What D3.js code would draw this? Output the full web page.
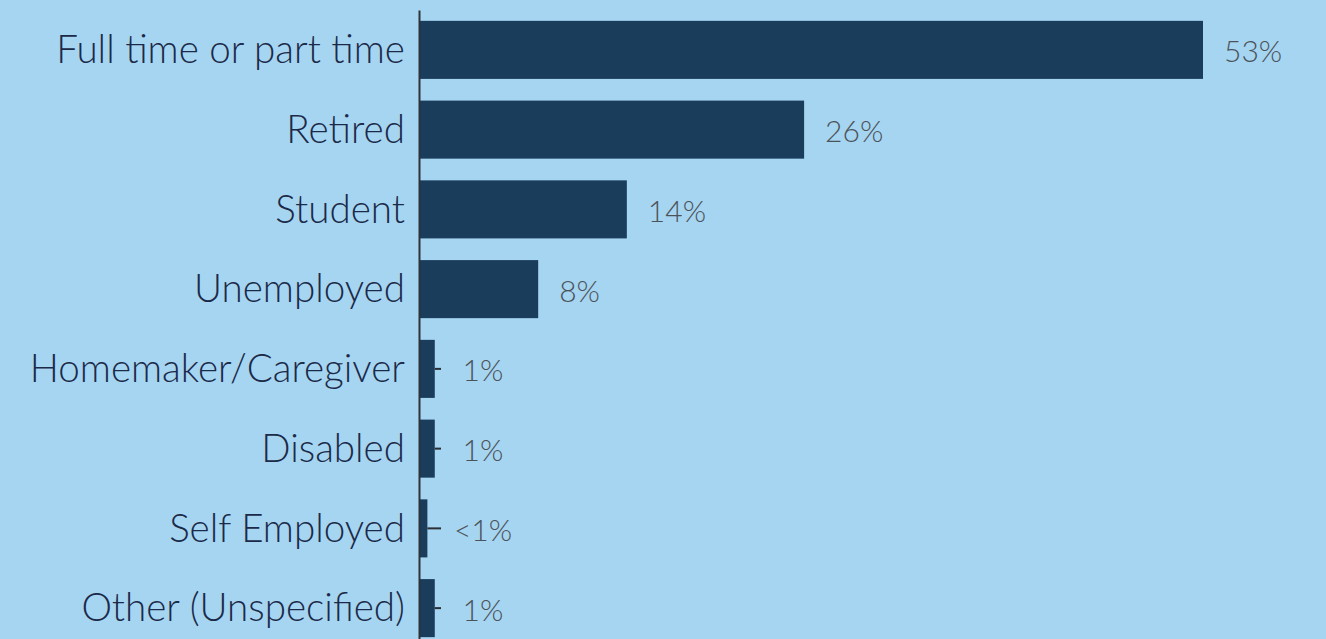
<!DOCTYPE html>
<html>
<head>
<meta charset="utf-8">
<script src="https://cdn.jsdelivr.net/npm/d3@7"></script>
<style>
  html, body { margin: 0; padding: 0; background: #a6d5f2; overflow: hidden; }
  svg { display: block; }
  .cat { font-family: "Source Sans Pro", Lato, "Noto Sans", sans-serif; font-weight: 300; fill: #1b2a48; }
  .val { font-family: "Source Sans Pro", Lato, "Noto Sans", sans-serif; font-weight: 300; fill: #4c5358; }
</style>
</head>
<body>
<svg id="chart" width="1326" height="639"></svg>
<script>
// Employment status of respondents, share in percent
const categories = [
  "Full time or part time",
  "Retired",
  "Student",
  "Unemployed",
  "Homemaker/Caregiver",
  "Disabled",
  "Self Employed",
  "Other (Unspecified)"
];
const values = [53, 26, 14, 8, 1, 1, 0.5, 1];
const valueLabels = ["53%", "26%", "14%", "8%", "1%", "1%", "<1%", "1%"];

const rows = categories.map((c, i) => ({ cat: c, v: values[i], label: valueLabels[i] }));

const width = 1326, height = 639;
const axisX = 419;

const svg = d3.select("#chart");

svg.append("rect").attr("width", width).attr("height", height).attr("fill", "#a6d5f2");

const x = d3.scaleLinear().domain([0, 53]).range([axisX + 1, 1203]);
const y = d3.scaleBand().domain(categories).range([10, 648]).paddingInner(0.272).paddingOuter(0.136);

// bars
svg.append("g").selectAll("rect").data(rows).join("rect")
  .attr("x", x(0))
  .attr("y", d => y(d.cat))
  .attr("width", d => x(d.v) - x(0))
  .attr("height", y.bandwidth())
  .attr("fill", "#1b3d5c");

// leader ticks for the very short bars
const leaderEnd = x(0) + 21;
const small = rows.filter(d => d.v < 2);
svg.append("g").selectAll("line").data(small).join("line")
  .attr("x1", d => x(d.v))
  .attr("x2", leaderEnd)
  .attr("y1", d => y(d.cat) + y.bandwidth() / 2)
  .attr("y2", d => y(d.cat) + y.bandwidth() / 2)
  .attr("stroke", "#2a2f36")
  .attr("stroke-width", 2);

// value labels
svg.append("g").selectAll("text").data(rows).join("text")
  .attr("class", "val")
  .attr("font-size", 30)
  .attr("x", d => d.v < 2 ? leaderEnd + 42 : x(d.v) + 21)
  .attr("text-anchor", d => d.v < 2 ? "middle" : "start")
  .attr("y", d => y(d.cat) + y.bandwidth() / 2)
  .attr("dy", "0.42em")
  .text(d => d.label);

// category axis
const axis = d3.axisLeft(y).tickSize(0).tickPadding(14);
const gAxis = svg.append("g").attr("transform", `translate(${axisX},0)`).call(axis);
gAxis.select(".domain").attr("stroke", "#2e3338").attr("stroke-width", 2);
gAxis.selectAll(".tick text")
  .attr("class", "cat")
  .attr("font-size", 38.6)
  .attr("dy", "0.34em");
</script>
</body>
</html>
